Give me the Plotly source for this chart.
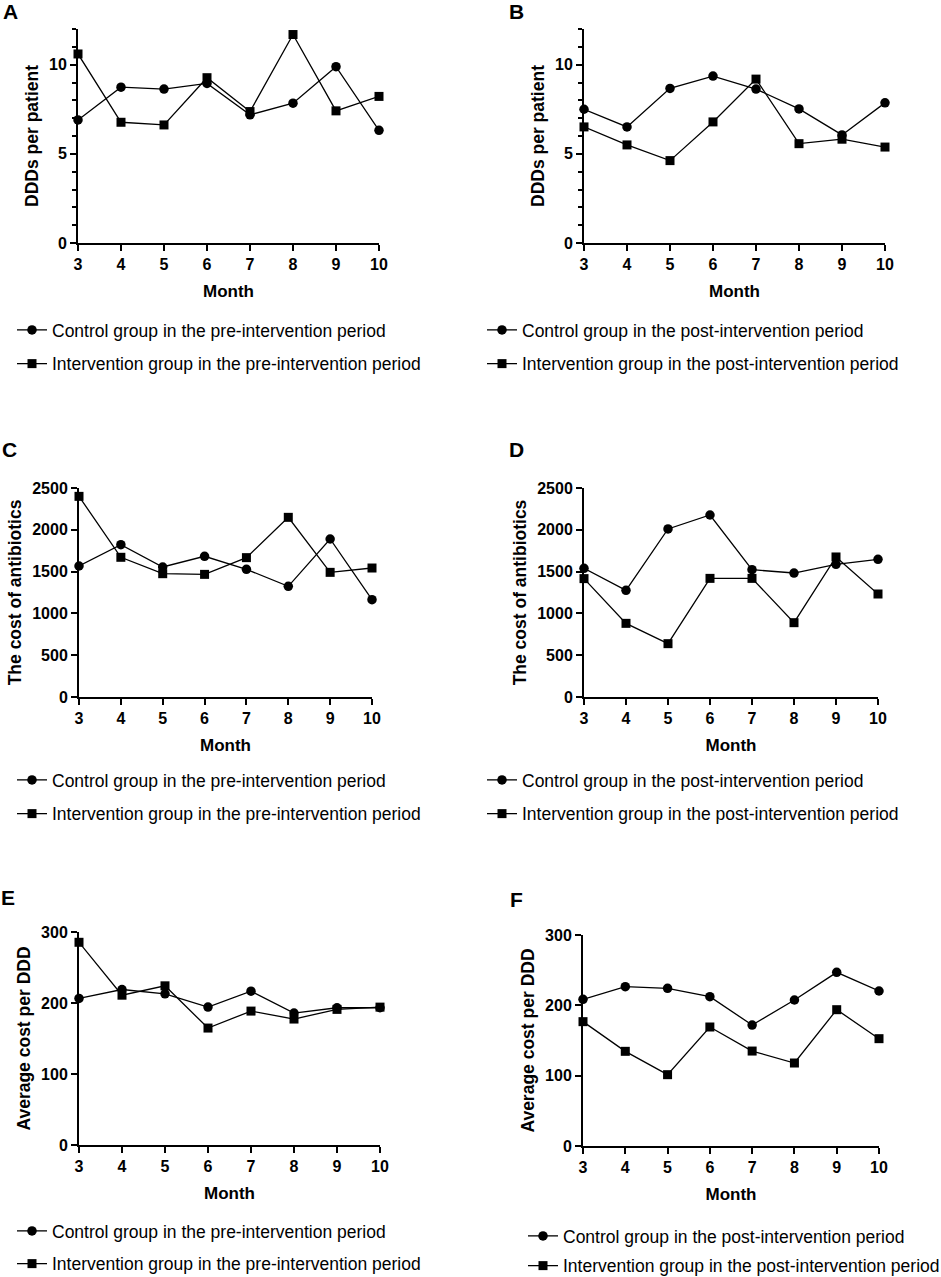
import plotly.graph_objects as go

months = [3, 4, 5, 6, 7, 8, 9, 10]

# Panel A: DDDs per patient, pre-intervention
a_control = [6.9, 8.74, 8.63, 8.95, 7.19, 7.84, 9.89, 6.32]
a_interv = [10.6, 6.77, 6.62, 9.27, 7.37, 11.69, 7.41, 8.22]
# Panel B: DDDs per patient, post-intervention
b_control = [7.5, 6.51, 8.67, 9.36, 8.63, 7.52, 6.06, 7.86]
b_interv = [6.51, 5.5, 4.62, 6.79, 9.19, 5.57, 5.82, 5.38]
# Panel C: cost of antibiotics, pre-intervention
c_control = [1567, 1822, 1555, 1683, 1527, 1324, 1890, 1164]
c_interv = [2400, 1671, 1475, 1467, 1667, 2149, 1491, 1543]
# Panel D: cost of antibiotics, post-intervention
d_control = [1539, 1276, 2010, 2177, 1523, 1483, 1587, 1647]
d_interv = [1416, 881, 638, 1419, 1419, 889, 1675, 1232]
# Panel E: average cost per DDD, pre-intervention
e_control = [206.4, 219, 213, 194.2, 216.7, 185.8, 193.3, 193.3]
e_interv = [285.5, 211, 224.2, 164.7, 188.6, 177.4, 191, 194.2]
# Panel F: average cost per DDD, post-intervention
f_control = [208.5, 226.5, 224.2, 212.3, 172, 207.6, 246.9, 220.4]
f_interv = [176.8, 134.6, 101.4, 169.2, 135, 118, 193.8, 152.6]

pre_labels = ["Control group in the pre-intervention period",
              "Intervention group in the pre-intervention period"]
post_labels = ["Control group in the post-intervention period",
               "Intervention group in the post-intervention period"]

y_titles = ["DDDs per patient", "DDDs per patient",
            "The cost of antibiotics", "The cost of antibiotics",
            "Average cost per DDD", "Average cost per DDD"]
panel_letters = ["A", "B", "C", "D", "E", "F"]

W, H = 941, 1277

# plot-area pixel boxes: (left, right, top, bottom)
boxes = [(78, 379, 29, 243), (584, 885, 29, 243),
         (79, 372, 488, 697), (584, 878, 488, 697),
         (79, 380, 932, 1145), (583, 879, 935, 1146)]
yranges = [[0, 12], [0, 12], [0, 2500], [0, 2500], [0, 300], [0, 300]]
ydticks = [5, 5, 500, 500, 100, 100]
yminor = [1, 1, None, None, None, None]
# panel-letter centres (pixels)
letter_pos = [(10, 11), (516, 11), (9, 449), (516, 449), (8, 897), (516, 899)]
legend_pos = [(12, 312), (482, 312), (12, 762), (482, 762), (12, 1213), (523, 1218)]
legend_gaps = [8, 8, 8, 8, 7, 4]

series = [(a_control, a_interv), (b_control, b_interv), (c_control, c_interv),
          (d_control, d_interv), (e_control, e_interv), (f_control, f_interv)]

FONT = "Arial, Liberation Sans, sans-serif"

fig = go.Figure()
layout = dict(width=W, height=H, margin=dict(l=0, r=0, t=0, b=0, autoexpand=False),
              template="none",
              paper_bgcolor="white", plot_bgcolor="white",
              font=dict(family=FONT, color="black"), showlegend=True)
annotations = []

for i in range(6):
    n = i + 1
    xa = "x" if n == 1 else f"x{n}"
    ya = "y" if n == 1 else f"y{n}"
    lg = "legend" if n == 1 else f"legend{n}"
    labels = pre_labels if i % 2 == 0 else post_labels
    ctrl, intv = series[i]
    fig.add_trace(go.Scatter(x=months, y=ctrl, mode="lines+markers", name=labels[0],
                             xaxis=xa, yaxis=ya, legend=lg, legendgroup=f"g{n}a",
                             cliponaxis=False,
                             line=dict(color="black", width=1.3),
                             marker=dict(symbol="circle", size=9.5, color="black")))
    fig.add_trace(go.Scatter(x=months, y=intv, mode="lines+markers", name=labels[1],
                             xaxis=xa, yaxis=ya, legend=lg, legendgroup=f"g{n}b",
                             cliponaxis=False,
                             line=dict(color="black", width=1.3),
                             marker=dict(symbol="square", size=9, color="black")))
    l, r, t, b = boxes[i]
    xkey = "xaxis" if n == 1 else f"xaxis{n}"
    ykey = "yaxis" if n == 1 else f"yaxis{n}"
    layout[xkey] = dict(domain=[l / W, r / W], anchor=ya, range=[3, 10],
                        tickmode="array", tickvals=months, ticktext=[str(m) for m in months],
                        showline=True, linecolor="black", linewidth=2,
                        ticks="outside", ticklen=6, tickwidth=2, tickcolor="black",
                        showgrid=False, zeroline=False, fixedrange=True, automargin=False,
                        tickfont=dict(size=16, family=FONT, weight="bold"),
                        title=dict(text="Month", standoff=13,
                                   font=dict(size=17, family=FONT, weight="bold")))
    yd = dict(domain=[1 - b / H, 1 - t / H], anchor=xa, range=yranges[i],
              dtick=ydticks[i], tick0=0,
              showline=True, linecolor="black", linewidth=2,
              ticks="outside", ticklen=6, tickwidth=2, tickcolor="black",
              showgrid=False, zeroline=False, fixedrange=True, automargin=False,
              tickfont=dict(size=16, family=FONT, weight="bold"),
              title=dict(text=y_titles[i], standoff=6,
                         font=dict(size=17.5, family=FONT, weight="bold")))
    if yminor[i]:
        yd["minor"] = dict(dtick=yminor[i], ticks="outside", ticklen=4,
                           tickwidth=1.5, tickcolor="black", showgrid=False)
    layout[ykey] = yd
    lx, ly = legend_pos[i]
    layout[lg] = dict(x=lx / W, y=1 - ly / H, xanchor="left", yanchor="top",
                      traceorder="grouped", tracegroupgap=legend_gaps[i],
                      bgcolor="rgba(0,0,0,0)", font=dict(size=17.5, family=FONT, color="black"))
    px, py = letter_pos[i]
    annotations.append(dict(text=panel_letters[i], x=px / W, y=1 - py / H,
                            xref="paper", yref="paper", xanchor="center", yanchor="middle",
                            height=18, borderpad=0, showarrow=False,
                            font=dict(size=21, family=FONT, weight="bold", color="black")))

layout["annotations"] = annotations
fig.update_layout(**layout)
fig.write_html("out.html", config={"displayModeBar": False},
               post_script="document.body.style.margin='0';document.body.style.overflow='hidden';")
